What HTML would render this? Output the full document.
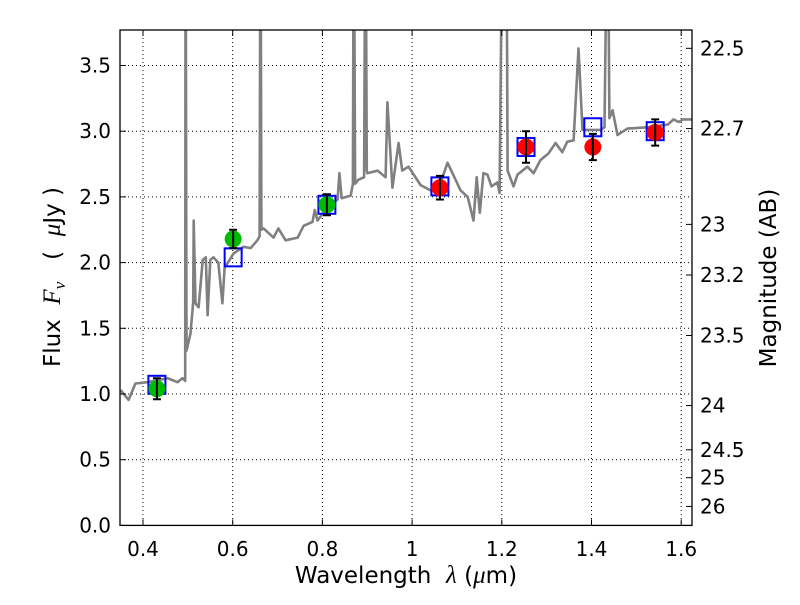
<!DOCTYPE html>
<html><head><meta charset="utf-8"><style>
body{margin:0;background:#fff}
svg{font-family:"DejaVu Sans","Liberation Sans",sans-serif}
</style></head><body>
<svg id="chart" width="800" height="600" viewBox="0 0 800 600" xmlns="http://www.w3.org/2000/svg">
<rect width="800" height="600" fill="#fff"/>
<g id="grid"></g>
<g id="plot"></g>
<g id="axes"></g>
<text x="406" y="583" font-size="23" text-anchor="middle" xml:space="preserve">Wavelength  <tspan font-style="italic" font-family="Liberation Serif, serif" font-size="25">λ</tspan> (<tspan font-style="italic" font-family="Liberation Serif, serif" font-size="25">μ</tspan>m)</text>
<text transform="translate(60,277) rotate(-90)" font-size="23" text-anchor="middle" xml:space="preserve">Flux  <tspan font-style="italic" font-family="Liberation Serif, serif" font-size="25">F</tspan><tspan font-style="italic" font-family="Liberation Serif, serif" font-size="17" dy="5">ν</tspan><tspan dy="-5">   (  </tspan><tspan font-style="italic" font-family="Liberation Serif, serif" font-size="25">μ</tspan>Jy )</text>
<text transform="translate(776,278) rotate(-90)" font-size="23" text-anchor="middle">Magnitude (AB)</text>
</svg>
<script>
const xTicks=[0.4,0.6,0.8,1.0,1.2,1.4,1.6];
const xTickLabels=["0.4","0.6","0.8","1","1.2","1.4","1.6"];
const yTicks=[0,0.5,1,1.5,2,2.5,3,3.5];
const yTickLabels=["0.0","0.5","1.0","1.5","2.0","2.5","3.0","3.5"];
const magTicks=[22.5,22.7,23,23.2,23.5,24,24.5,25,26];
const magTickLabels=["22.5","22.7","23","23.2","23.5","24","24.5","25","26"];
const specLam=[0.35,0.368,0.383,0.41,0.455,0.477,0.488,0.494,0.495,0.497,0.506,0.512,0.513,0.517,0.524,0.533,0.54,0.544,0.55,0.557,0.568,0.577,0.582,0.602,0.624,0.64,0.655,0.66,0.662,0.664,0.669,0.691,0.702,0.718,0.745,0.758,0.778,0.783,0.789,0.811,0.834,0.838,0.843,0.863,0.868,0.87,0.873,0.88,0.893,0.896,0.899,0.9,0.923,0.941,0.945,0.956,0.97,0.978,0.992,1.019,1.041,1.064,1.079,1.09,1.108,1.124,1.137,1.144,1.151,1.159,1.168,1.177,1.19,1.195,1.202,1.21,1.213,1.226,1.235,1.257,1.271,1.286,1.304,1.32,1.335,1.346,1.36,1.371,1.38,1.42,1.429,1.436,1.44,1.447,1.458,1.48,1.525,1.57,1.583,1.594,1.605,1.625];
const specFlux=[1.03,0.955,1.08,1.09,1.12,1.09,1.12,1.1,5,1.33,1.46,1.7,2.32,1.69,1.66,2.02,2.04,1.6,2.02,2.04,2.0,1.69,1.96,2.07,2.12,2.11,2.17,2.2,5,2.25,2.26,2.19,2.26,2.17,2.19,2.28,2.31,2.4,2.32,2.42,2.48,2.68,2.49,2.51,2.6,5,2.6,2.63,2.65,5,2.7,2.68,2.70,2.65,3.22,2.57,2.91,2.70,2.73,2.59,2.55,2.61,2.76,2.68,2.55,2.50,2.32,2.65,2.38,2.68,2.67,2.58,2.61,2.53,5,5,2.70,2.58,2.67,2.73,2.68,2.78,2.83,2.91,2.84,2.92,2.93,3.63,3.01,3.01,3.03,5,3.1,3.16,2.97,3.02,3.03,3.05,3.09,3.07,3.09,3.09];
const photLam=[0.431,0.601,0.81,1.062,1.254,1.403,1.542];
const photFlux=[1.04,2.18,2.44,2.57,2.88,2.88,2.99];
const photErr=[0.08,0.07,0.08,0.09,0.12,0.1,0.1];
const photColor=["#00bb00","#00bb00","#00bb00","#ff0000","#ff0000","#ff0000","#ff0000"];
const modelFlux=[1.07,2.04,2.44,2.58,2.88,3.03,3.0];

const L=120,R=692,T=30,B=525.4;
const X=v=>143+(v-0.4)*448.5;
const Y=v=>B-v*131.4;
const NS="http://www.w3.org/2000/svg";
function mk(tag,attrs,parent,text){const e=document.createElementNS(NS,tag);for(const k in attrs)e.setAttribute(k,attrs[k]);if(text!==undefined)e.textContent=text;parent.appendChild(e);return e;}
const grid=document.getElementById('grid'),plot=document.getElementById('plot'),axes=document.getElementById('axes');
xTicks.forEach((t,i)=>{
 const g=mk('line',{x1:X(t),x2:X(t),y1:T,y2:B,stroke:'#000','stroke-width':1,'stroke-dasharray':'1,3'},grid);
 
 
 mk('line',{x1:X(t),x2:X(t),y1:B,y2:B-6,stroke:'#000'},axes);
 mk('line',{x1:X(t),x2:X(t),y1:T,y2:T+6,stroke:'#000'},axes);
 const lb=mk('text',{x:X(t),y:556,'font-size':20,'text-anchor':'middle'},axes,xTickLabels[i]);
 
 
});
yTicks.forEach((t,i)=>{
 if(t>0){const g=mk('line',{x1:L,x2:R,y1:Y(t),y2:Y(t),stroke:'#000','stroke-width':1,'stroke-dasharray':'1,3'},grid);
 
 }
 mk('line',{x1:L,x2:L+6,y1:Y(t),y2:Y(t),stroke:'#000'},axes);
 const lb=mk('text',{x:111,y:Y(t)+7,'font-size':20,'text-anchor':'end'},axes,yTickLabels[i]);
 
 
});
magTicks.forEach((m,i)=>{
 const f=Math.pow(10,(23.9-m)/2.5);
 mk('line',{x1:R,x2:R-6,y1:Y(f),y2:Y(f),stroke:'#000'},axes);
 const lb=mk('text',{x:700,y:Y(f)+7,'font-size':20},axes,magTickLabels[i]);
 
 
});
mk('clipPath',{id:'clip'},plot).appendChild(document.createElementNS(NS,'rect'));
const cr=plot.querySelector('#clip rect');cr.setAttribute('x',L);cr.setAttribute('y',T);cr.setAttribute('width',R-L);cr.setAttribute('height',B-T);
const pts=specLam.map((l,i)=>X(l).toFixed(1)+','+Y(specFlux[i]).toFixed(1)).join(' ');
const sp=mk('polyline',{points:pts,fill:'none',stroke:'#808080','stroke-width':2.6,'stroke-linejoin':'round','clip-path':'url(#clip)'},plot);


photLam.forEach((l,i)=>{
 const sq=mk('rect',{x:X(l)-8.5,y:Y(modelFlux[i])-9,width:17,height:18,fill:'none',stroke:'#0000ff','stroke-width':2},plot);
 
 
 const c=mk('circle',{cx:X(l),cy:Y(photFlux[i]),r:8.5,fill:photColor[i]},plot);
 
 
 const x=X(l),y1=Y(photFlux[i]+photErr[i]),y2=Y(photFlux[i]-photErr[i]);
 const eb=mk('path',{d:`M${x},${y1}V${y2}M${x-4},${y1}H${x+4}M${x-4},${y2}H${x+4}`,stroke:'#000','stroke-width':2,fill:'none'},plot);
 
 
});
const fr=mk('rect',{x:L,y:T,width:R-L,height:B-T,fill:'none',stroke:'#000','stroke-width':1.3},axes);


</script>
</body></html>
